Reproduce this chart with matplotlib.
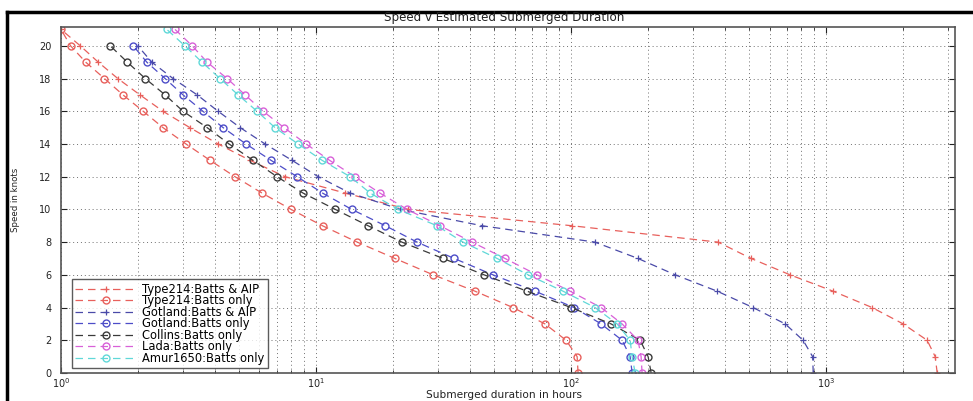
import matplotlib
matplotlib.use("Agg")
import matplotlib.pyplot as plt
from matplotlib.lines import Line2D

plt.rcParams['font.family'] = ['DejaVu Sans']

# Speeds (knots)
speed_21 = list(range(0, 22))
speed_20 = list(range(0, 21))

# Submerged duration (hours) at each speed, from 0 knots upwards
type214_aip = [2725, 2676, 2489, 2004, 1515, 1065, 722, 508, 377, 101,
               23.0, 13.0, 7.56, 5.51, 4.13, 3.2, 2.51, 2.04, 1.67, 1.4, 1.19, 1.0]
type214_batt = [106.5, 105.6, 95.6, 79.0, 59.2, 42.0, 28.8, 20.4, 14.5, 10.6,
                7.98, 6.14, 4.81, 3.84, 3.09, 2.51, 2.1, 1.75, 1.48, 1.25, 1.09, 1.0]
gotland_aip = [890, 885, 812, 691, 517, 374, 256, 183, 124, 44.8,
               21.4, 13.6, 10.2, 8.05, 6.31, 5.04, 4.13, 3.42, 2.75, 2.27, 2.0]
gotland_batt = [173.5, 170.4, 158.5, 131.1, 102.8, 72.2, 49.4, 34.8, 24.9, 18.7,
                13.8, 10.6, 8.43, 6.66, 5.31, 4.32, 3.6, 3.01, 2.56, 2.17, 1.92]
collins_batt = [206, 200.4, 186.5, 143.5, 100, 67.2, 45.6, 31.5, 21.7, 16.0,
                11.9, 8.89, 7.03, 5.66, 4.56, 3.74, 3.01, 2.56, 2.14, 1.82, 1.56]
lada_batt = [189.8, 188.1, 183, 158.5, 131.1, 99.1, 73.5, 55.1, 40.9, 30.6,
             22.75, 17.8, 14.2, 11.3, 9.14, 7.49, 6.2, 5.27, 4.48, 3.74, 3.27, 2.8]
amur_batt = [178.3, 173.5, 170.4, 151.5, 124.2, 93.0, 67.8, 51.3, 37.7, 29.8,
             21.0, 16.3, 13.6, 10.56, 8.5, 6.9, 5.87, 4.95, 4.2, 3.57, 3.06, 2.6]

labels = ["Type214:Batts & AIP", "Type214:Batts only", "Gotland:Batts & AIP",
          "Gotland:Batts only", "Collins:Batts only", "Lada:Batts only",
          "Amur1650:Batts only"]

series = [
    (type214_aip, speed_21, '#e8605c', '+'),
    (type214_batt, speed_21, '#e8605c', 'o'),
    (gotland_aip, speed_20, '#4a4aa8', '+'),
    (gotland_batt, speed_20, '#4d4dc8', 'o'),
    (collins_batt, speed_20, '#3a3a3a', 'o'),
    (lada_batt, speed_21, '#d860d8', 'o'),
    (amur_batt, speed_21, '#60d8d8', 'o'),
]

fig = plt.figure(figsize=(9.73, 4.01), dpi=100)
ax = fig.add_axes([61 / 973, 28 / 401, (955 - 61) / 973, (373 - 27) / 401])

for (xs, ys, col, mk), lab in zip(series, labels):
    if mk == 'o':
        ax.plot(xs, ys, linestyle=(0, (6, 4)), color=col, linewidth=0.9,
                marker='o', markersize=5, markerfacecolor='none',
                markeredgecolor=col, markeredgewidth=1.0, label=lab)
    else:
        ax.plot(xs, ys, linestyle=(0, (6, 4)), color=col, linewidth=0.9,
                marker='+', markersize=5, markeredgewidth=0.9, label=lab)

ax.set_xscale('log')
ax.set_xlim(1, 3200)
ax.set_ylim(0, 21.15)
ax.set_yticks(range(0, 21, 2))
ax.grid(True, which='major', linestyle=(0, (1, 3)), color='#707070', linewidth=0.7)
ax.grid(True, which='minor', axis='x', linestyle=(0, (1, 3)), color='#707070', linewidth=0.7)
ax.tick_params(which='both', direction='in', top=True, right=True, labelsize=7,
               colors='#222222')
ax.tick_params(which='major', length=4)
ax.tick_params(axis='x', which='major', pad=2)
ax.tick_params(axis='y', which='major', pad=7)
ax.tick_params(which='minor', length=2)
for sp in ax.spines.values():
    sp.set_color('#555555')
    sp.set_linewidth(1.2)

fig.text(504 / 973, 1 - 18 / 401, "Speed v Estimated Submerged Duration",
         fontsize=8.6, ha='center', va='center', color='#222222')
fig.text(504 / 973, 1 - 395.5 / 401, "Submerged duration in hours",
         fontsize=7.6, ha='center', va='center', color='#222222')
fig.text(15 / 973, 1 - 200 / 401, "Speed in knots", fontsize=6.2,
         ha='center', va='center', rotation=90, color='#222222')

leg = ax.legend(loc='lower left', bbox_to_anchor=(0.012, 0.014), fontsize=8.3,
                handlelength=5.4, labelspacing=-0.13, borderpad=0.3,
                handletextpad=0.4, frameon=True, fancybox=False, borderaxespad=0)
leg.get_frame().set_edgecolor('#333333')
leg.get_frame().set_linewidth(1.0)

# outer dark frame along the top and left
fig.add_artist(Line2D([7 / 973, 7 / 973], [0, 1 - 12 / 401], transform=fig.transFigure,
                      color='black', linewidth=2.5))
fig.add_artist(Line2D([7 / 973, 1], [1 - 12 / 401, 1 - 12 / 401], transform=fig.transFigure,
                      color='black', linewidth=2.5))

fig.savefig("out.png", dpi=100)
